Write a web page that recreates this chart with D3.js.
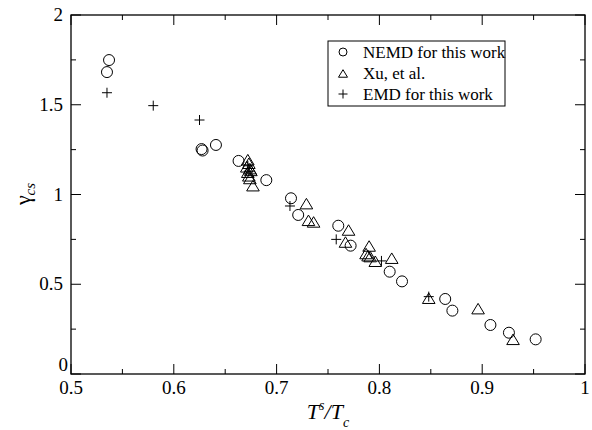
<!DOCTYPE html>
<html>
<head>
<meta charset="utf-8">
<script src="https://cdn.jsdelivr.net/npm/d3@7"></script>
<style>
  body { margin: 0; background: #fff; }
  svg text { font-family: "Liberation Serif", "DejaVu Serif", serif; fill: #000; }
</style>
</head>
<body>
<script>
//-----------------Data----------------

const nemdX = [0.537, 0.535, 0.627, 0.628, 0.641, 0.663, 0.690, 0.714, 0.721, 0.760, 0.772, 0.810, 0.822, 0.864, 0.871, 0.908, 0.926, 0.952];
const nemdY = [1.749, 1.682, 1.253, 1.245, 1.276, 1.187, 1.080, 0.979, 0.886, 0.826, 0.715, 0.570, 0.516, 0.418, 0.353, 0.273, 0.230, 0.193];

const xuX = [0.672, 0.673, 0.671, 0.674, 0.672, 0.675, 0.673, 0.674, 0.677, 0.729, 0.731, 0.736, 0.770, 0.767, 0.790, 0.787, 0.789, 0.791, 0.796, 0.812, 0.848, 0.896, 0.930];
const xuY = [1.190, 1.170, 1.150, 1.140, 1.120, 1.130, 1.100, 1.085, 1.045, 0.945, 0.852, 0.843, 0.798, 0.731, 0.709, 0.667, 0.655, 0.650, 0.624, 0.641, 0.418, 0.360, 0.189];

const emdX = [0.535, 0.580, 0.625, 0.672, 0.673, 0.713, 0.758, 0.802, 0.848];
const emdY = [1.567, 1.495, 1.415, 1.160, 1.130, 0.936, 0.750, 0.630, 0.431];

const xTicks = [0.5, 0.6, 0.7, 0.8, 0.9, 1];
const xTickLabels = ["0.5", "0.6", "0.7", "0.8", "0.9", "1"];
const yTicks = [0, 0.5, 1, 1.5, 2];
const yTickLabels = ["0", "0.5", "1", "1.5", "2"];
const legendLabels = ["NEMD for this work", "Xu, et al.", "EMD for this work"];

//-----------------Svg----------------

const width = 592;
const height = 430;
const plotL = 71, plotR = 585, plotT = 15, plotB = 374;

const svg = d3.select("body").append("svg").attr("width", width).attr("height", height);

const x = d3.scaleLinear().domain([0.5, 1]).range([plotL, plotR]);
const y = d3.scaleLinear().domain([0, 2]).range([plotB, plotT]);

//-----------------Axes (ticks inward on all sides)----------------

const xMinor = d3.range(0.55, 1, 0.1);
const yMinor = d3.range(0.25, 2, 0.5);

function tickLines(g, scale, values, len, horizontal) {
  values.forEach((v) => {
    const p = scale(v);
    if (horizontal) {
      g.append("line").attr("x1", p).attr("x2", p).attr("y1", plotB).attr("y2", plotB - len);
      g.append("line").attr("x1", p).attr("x2", p).attr("y1", plotT).attr("y2", plotT + len);
    } else {
      g.append("line").attr("y1", p).attr("y2", p).attr("x1", plotL).attr("x2", plotL + len);
      g.append("line").attr("y1", p).attr("y2", p).attr("x1", plotR).attr("x2", plotR - len);
    }
  });
}

const ticks = svg.append("g").attr("stroke", "#000").attr("stroke-width", 1);
tickLines(ticks, x, xTicks, 10, true);
tickLines(ticks, x, xMinor, 5, true);
tickLines(ticks, y, yTicks, 10, false);
tickLines(ticks, y, yMinor, 5, false);

svg.append("rect")
  .attr("x", plotL).attr("y", plotT)
  .attr("width", plotR - plotL).attr("height", plotB - plotT)
  .attr("fill", "none").attr("stroke", "#000").attr("stroke-width", 1.3);

svg.append("g").selectAll("text").data(xTicks).enter().append("text")
  .attr("x", (d) => x(d))
  .attr("y", 394)
  .attr("text-anchor", "middle")
  .style("font-size", "19px")
  .text((d, i) => xTickLabels[i]);

// the "0" sits just above the x axis "0.5", as in the original figure
svg.append("g").selectAll("text").data(yTicks).enter().append("text")
  .attr("x", (d) => (d === 0 ? 68 : 63))
  .attr("y", (d) => (d === 0 ? y(d) - 3 : y(d) + 6))
  .attr("text-anchor", "end")
  .style("font-size", "19px")
  .text((d, i) => yTickLabels[i]);

//-----------------Axis titles----------------

const xt = svg.append("text")
  .attr("x", 328).attr("y", 419)
  .attr("text-anchor", "middle")
  .style("font-size", "22px")
  .style("font-style", "italic");
xt.append("tspan").text("T");
xt.append("tspan").attr("dy", -9).style("font-size", "14px").text("s");
xt.append("tspan").attr("dy", 9).text("/T");
xt.append("tspan").attr("dy", 8).style("font-size", "14px").text("c");

const yt = svg.append("text")
  .attr("transform", "translate(30, 194) rotate(-90)")
  .attr("text-anchor", "middle")
  .style("font-size", "22px");
yt.append("tspan").text("γ");
yt.append("tspan").attr("dy", 5).style("font-size", "15px").style("font-style", "italic").text("cs");

//-----------------Markers----------------

const trianglePath = (s) => `M0,${-s}L${s * 1.05},${s * 0.75}L${-s * 1.05},${s * 0.75}Z`;
const plusPath = (s) => `M${-s},0H${s}M0,${-s}V${s}`;

const marks = svg.append("g").attr("fill", "none").attr("stroke", "#000").attr("stroke-width", 1);

marks.selectAll(".nemd").data(nemdX).enter().append("circle")
  .attr("class", "nemd")
  .attr("cx", (d) => x(d))
  .attr("cy", (d, i) => y(nemdY[i]))
  .attr("r", 5.5);

marks.selectAll(".xu").data(xuX).enter().append("path")
  .attr("class", "xu")
  .attr("d", trianglePath(6))
  .attr("transform", (d, i) => `translate(${x(d)},${y(xuY[i])})`);

marks.selectAll(".emd").data(emdX).enter().append("path")
  .attr("class", "emd")
  .attr("d", plusPath(5))
  .attr("transform", (d, i) => `translate(${x(d)},${y(emdY[i])})`);

//-----------------Legend----------------

const legend = svg.append("g").attr("id", "legend");
legend.append("rect")
  .attr("x", 328).attr("y", 41).attr("width", 177).attr("height", 65)
  .attr("fill", "#fff").attr("stroke", "#000").attr("stroke-width", 1);

const rowY = [52, 73, 94];
legend.append("circle").attr("cx", 343).attr("cy", rowY[0]).attr("r", 4)
  .attr("fill", "none").attr("stroke", "#000");
legend.append("path").attr("d", trianglePath(4.3)).attr("transform", `translate(343,${rowY[1] + 1})`)
  .attr("fill", "none").attr("stroke", "#000");
legend.append("path").attr("d", plusPath(4.5)).attr("transform", `translate(343,${rowY[2]})`)
  .attr("fill", "none").attr("stroke", "#000");

legendLabels.forEach((t, i) => {
  legend.append("text")
    .attr("x", 363).attr("y", rowY[i] + 6)
    .style("font-size", "17px")
    .text(t);
});
</script>
</body>
</html>
